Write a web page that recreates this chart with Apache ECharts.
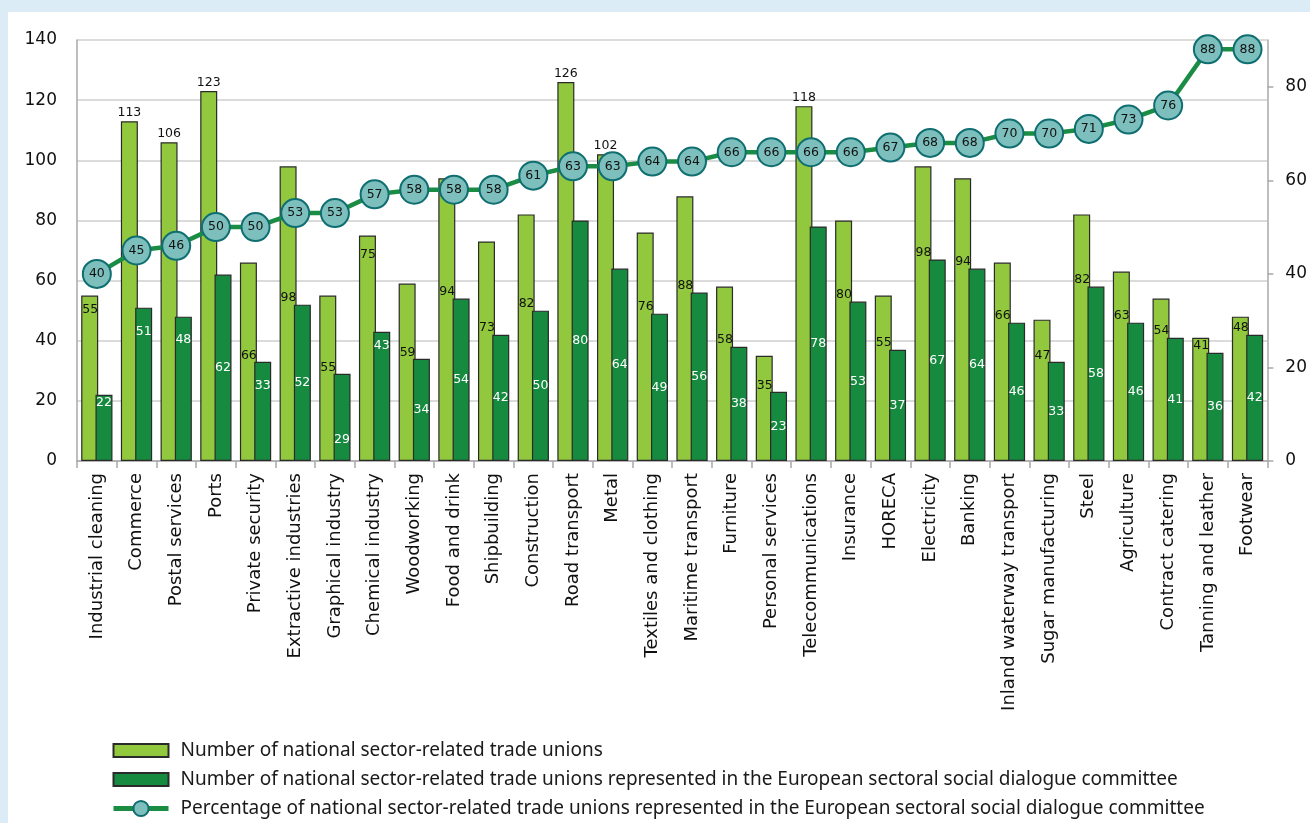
<!DOCTYPE html>
<html>
<head>
<meta charset="utf-8">
<script src="https://cdn.jsdelivr.net/npm/echarts@6/dist/echarts.min.js"></script>
<style>
  html, body { margin: 0; padding: 0; width: 1310px; height: 823px; background: #dbecf6; overflow: hidden; }
  #chart { position: absolute; left: 8px; top: 12px; width: 1302px; height: 811px; background: #ffffff; }
</style>
</head>
<body>
<div id="chart"></div>
<script>
// ---- data ----
const categories = ['Industrial cleaning','Commerce','Postal services','Ports','Private security','Extractive industries','Graphical industry','Chemical industry','Woodworking','Food and drink','Shipbuilding','Construction','Road transport','Metal','Textiles and clothing','Maritime transport','Furniture','Personal services','Telecommunications','Insurance','HORECA','Electricity','Banking','Inland waterway transport','Sugar manufacturing','Steel','Agriculture','Contract catering','Tanning and leather','Footwear'];
const totalUnions = [55,113,106,123,66,98,55,75,59,94,73,82,126,102,76,88,58,35,118,80,55,98,94,66,47,82,63,54,41,48];
const representedUnions = [22,51,48,62,33,52,29,43,34,54,42,50,80,64,49,56,38,23,78,53,37,67,64,46,33,58,46,41,36,42];
const percentRepresented = [40,45,46,50,50,53,53,57,58,58,58,61,63,63,64,64,66,66,66,66,67,68,68,70,70,71,73,76,88,88];
const leftTicks = [0,20,40,60,80,100,120,140];
const rightTicks = [0,20,40,60,80];
const seriesNames = [
  'Number of national sector-related trade unions',
  'Number of national sector-related trade unions represented in the European sectoral social dialogue committee',
  'Percentage of national sector-related trade unions represented in the European sectoral social dialogue committee'
];

// ---- label placement styles (per category index) ----
const lightLabelOnTop = [1,2,3,12,13,18];
const lightLabelInsideTopPx = {0: 8, 7: 13};
const darkLabelInsideTopPx = {0: 1, 1: 18, 2: 17, 4: 17, 7: 8};
const darkLabelInsideBottomPx = {6: 15};

const FONT = 'DejaVu Sans';
const LIGHT = '#92c83e';
const DARK = '#168a3f';
const BORDER = '#2a2a2a';
const BAR_ICON = 'path://M0,0H55V13H0Z';

const lightData = totalUnions.map((v, i) => {
  let label;
  if (lightLabelOnTop.includes(i)) {
    label = { position: 'top', distance: 2, align: 'center', verticalAlign: 'bottom' };
  } else if (lightLabelInsideTopPx[i] !== undefined) {
    label = { position: [1, lightLabelInsideTopPx[i]], align: 'left', verticalAlign: 'top' };
  } else {
    const pct = ((v - representedUnions[i]) / v * 100).toFixed(2) + '%';
    label = { position: [1, pct], align: 'left', verticalAlign: 'bottom' };
  }
  return { value: v, label };
});

const darkData = representedUnions.map((v, i) => {
  let label;
  if (darkLabelInsideTopPx[i] !== undefined) {
    label = { position: 'insideTop', distance: darkLabelInsideTopPx[i] };
  } else if (darkLabelInsideBottomPx[i] !== undefined) {
    label = { position: 'insideBottom', distance: darkLabelInsideBottomPx[i] };
  } else {
    label = { position: 'inside' };
  }
  return { value: v, label };
});

const chart = echarts.init(document.getElementById('chart'));
chart.setOption({
  animation: false,
  backgroundColor: '#ffffff',
  textStyle: { fontFamily: FONT },
  grid: { left: 69, right: 40, top: 28, bottom: 362, containLabel: false },
  legend: {
    orient: 'vertical',
    left: 103,
    top: 729,
    padding: 0,
    itemWidth: 55,
    itemHeight: 19,
    itemGap: 10,
    lineStyle: { width: 5 },
    itemStyle: { borderWidth: 2 },
    textStyle: { fontFamily: 'Noto Sans', fontSize: 19, color: '#1a1a1a', padding: [0, 0, 0, 7] },
    data: [
      { name: seriesNames[0], icon: BAR_ICON },
      { name: seriesNames[1], icon: BAR_ICON },
      { name: seriesNames[2] }
    ]
  },
  xAxis: {
    type: 'category',
    data: categories,
    axisLine: { show: true, lineStyle: { color: '#a8a8a8', width: 1.5 } },
    axisTick: { show: true, interval: 0, length: 7, lineStyle: { color: '#a8a8a8', width: 1.5 } },
    axisLabel: { interval: 0, rotate: 90, margin: 12, fontFamily: FONT, fontSize: 18, color: '#111' }
  },
  yAxis: [
    {
      type: 'value', min: 0, max: 140, interval: 20,
      axisLine: { show: true, lineStyle: { color: '#a8a8a8', width: 1.5 } },
      axisTick: { show: false },
      axisLabel: { margin: 20, fontFamily: FONT, fontSize: 17, color: '#111', customValues: leftTicks },
      splitLine: { show: true, lineStyle: { color: '#cfcfcf', width: 1.5 } }
    },
    {
      type: 'value', min: 0, max: 90, interval: 20,
      position: 'right',
      axisLine: { show: true, lineStyle: { color: '#a8a8a8', width: 1.5 } },
      axisTick: { show: true, length: 6, inside: false, lineStyle: { color: '#a8a8a8', width: 1.5 }, customValues: rightTicks },
      axisLabel: { margin: 18, fontFamily: FONT, fontSize: 17, color: '#111', customValues: rightTicks },
      splitLine: { show: false }
    }
  ],
  series: [
    {
      name: seriesNames[0],
      type: 'bar',
      yAxisIndex: 0,
      barWidth: 17,
      barGap: '-16%',
      data: lightData,
      itemStyle: { color: LIGHT, borderColor: BORDER, borderWidth: 1.2 },
      label: { show: true, fontFamily: FONT, fontSize: 12.5, color: '#111' },
      z: 2
    },
    {
      name: seriesNames[1],
      type: 'bar',
      yAxisIndex: 0,
      barWidth: 17,
      barGap: '-16%',
      data: darkData,
      itemStyle: { color: DARK, borderColor: BORDER, borderWidth: 1.2 },
      label: { show: true, fontFamily: FONT, fontSize: 12.5, color: '#ffffff' },
      z: 2
    },
    {
      name: seriesNames[2],
      type: 'line',
      yAxisIndex: 1,
      data: percentRepresented,
      symbol: 'circle',
      symbolSize: 28,
      lineStyle: { color: '#1a8c44', width: 4.5 },
      itemStyle: { color: '#7dbfbd', borderColor: '#0f6e70', borderWidth: 2 },
      label: { show: true, position: 'inside', fontFamily: FONT, fontSize: 12.5, color: '#111' },
      z: 5
    }
  ]
});
</script>
</body>
</html>
